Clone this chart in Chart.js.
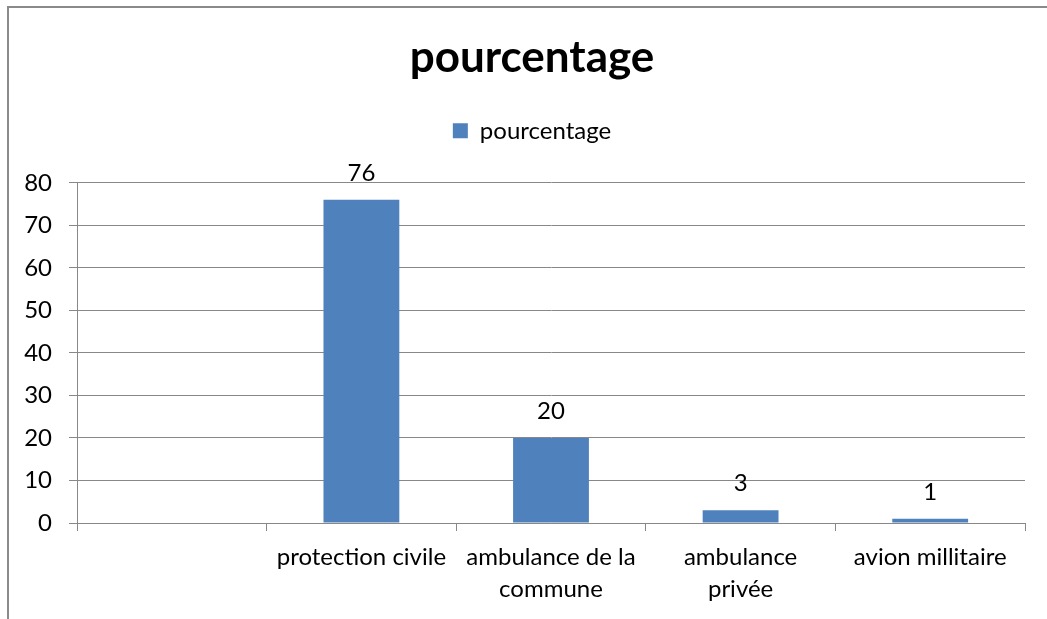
<!DOCTYPE html>
<html>
<head>
<meta charset="utf-8">
<script src="https://cdn.jsdelivr.net/npm/chart.js@4.4.1/dist/chart.umd.min.js"></script>
<style>
  html, body { margin: 0; padding: 0; background: #fff; overflow: hidden; width: 1047px; height: 619px; }
  #frame { position: absolute; left: 7px; top: 6px; width: 1046px; height: 640px; border-left: 2px solid #8a8a8a; border-top: 2px solid #8a8a8a; }
  #wrap { position: absolute; left: 0; top: 0; width: 1046px; height: 620px; }
</style>
</head>
<body>
<div id="frame"><div id="wrap"><canvas id="c" width="1046" height="620"></canvas></div></div>
<script>
const chartTitle = "pourcentage";
const seriesName = "pourcentage";
const categories = ["", "protection civile", ["ambulance de la", "commune"], ["ambulance", "privée"], "avion millitaire"];
const values = [null, 76, 20, 3, 1];
const yTicks = [0, 10, 20, 30, 40, 50, 60, 70, 80];

const FONT = "Lato";
const GRID = "#888888";

const legendSpacer = {
  id: "legendSpacer",
  afterInit(chart) {
    if (chart.legend && !chart.legend._spaced) {
      const orig = chart.legend.fit;
      chart.legend.fit = function () { orig.call(this); this.height += 30; };
      chart.legend._spaced = true;
    }
  }
};

const valueLabels = {
  id: "valueLabels",
  afterDatasetsDraw(chart) {
    const ctx = chart.ctx;
    const meta = chart.getDatasetMeta(0);
    ctx.save();
    ctx.font = "24px " + FONT;
    ctx.fillStyle = "#000";
    ctx.textAlign = "center";
    ctx.textBaseline = "alphabetic";
    meta.data.forEach((bar, i) => {
      const v = chart.data.datasets[0].data[i];
      if (v === null || v === undefined) return;
      ctx.fillText(String(v), bar.x, bar.y - 19);
    });
    ctx.restore();
  }
};

new Chart(document.getElementById("c"), {
  type: "bar",
  data: {
    labels: categories,
    datasets: [{
      label: seriesName,
      data: values,
      backgroundColor: "#4F81BD",
      borderWidth: 0,
      barPercentage: 0.4,
      categoryPercentage: 1.0
    }]
  },
  options: {
    responsive: false,
    animation: false,
    layout: { padding: { left: 30, right: 30, top: 0, bottom: 0 } },
    plugins: {
      title: {
        display: true,
        text: chartTitle,
        color: "#000",
        font: { family: FONT, size: 44, weight: "bold", lineHeight: 1.2 },
        padding: { top: 23, bottom: 25 }
      },
      legend: {
        display: true,
        position: "top",
        labels: {
          color: "#000",
          font: { family: FONT, size: 24 },
          boxWidth: 15,
          boxHeight: 15,
          padding: 10
        }
      },
      tooltip: { enabled: false }
    },
    scales: {
      x: {
        offset: true,
        grid: { display: true, drawOnChartArea: false, drawTicks: true, tickLength: 8, color: GRID, offset: true },
        border: { display: true, color: GRID, width: 1 },
        ticks: { color: "#000", font: { family: FONT, size: 24, lineHeight: 1.3 }, padding: 11, maxRotation: 0, autoSkip: false },
        afterFit(scale) { scale.height = 105; }
      },
      y: {
        min: 0,
        max: 80,
        afterBuildTicks(scale) { scale.ticks = yTicks.map(v => ({ value: v })); },
        grid: { display: true, drawTicks: true, tickLength: 8, color: GRID },
        border: { display: true, color: GRID, width: 1 },
        ticks: { color: "#000", font: { family: FONT, size: 24 }, padding: 17 },
        afterFit(scale) {
          scale.width = 38;
          scale._computeLabelArea = function () { return undefined; };
        }
      }
    }
  },
  plugins: [legendSpacer, valueLabels]
});
</script>
</body>
</html>
